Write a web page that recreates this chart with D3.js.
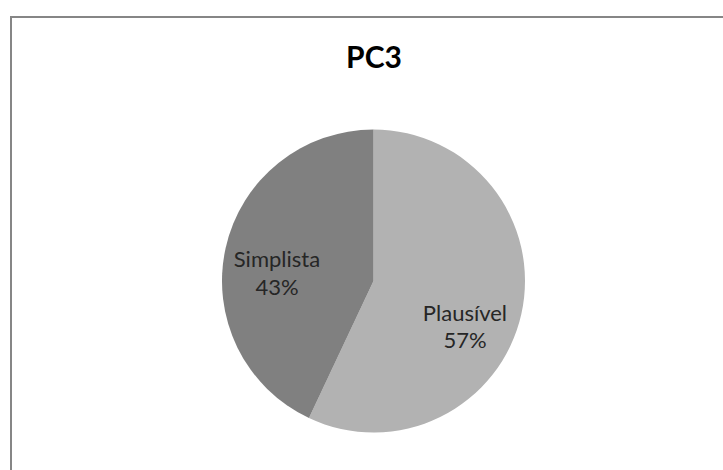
<!DOCTYPE html>
<html>
<head>
<meta charset="utf-8">
<script src="https://cdn.jsdelivr.net/npm/d3@7"></script>
<style>
  body { margin: 0; background: #fff; }
  svg { display: block; }
</style>
</head>
<body>
<script>
// data
const categories = ["Plausível", "Simplista"];
const values = [57, 43];
const colors = ["#b2b2b2", "#808080"];
// where Excel put each label (degrees clockwise from top, fraction of radius)
const labelAngle = [115.7, 275.4];
const labelRadius = [0.67, 0.64];

const width = 723, height = 470;
const cx = 373.5, cy = 281, R = 151.5;

const svg = d3.select("body").append("svg")
    .attr("width", width).attr("height", height);

svg.append("rect").attr("width", width).attr("height", height).attr("fill", "#fff");

// chart-area border, runs off the right and bottom edges
svg.append("rect")
    .attr("x", 11).attr("y", 17)
    .attr("width", width + 20).attr("height", height + 20)
    .attr("fill", "none")
    .attr("stroke", "#868686")
    .attr("stroke-width", 2);

svg.append("text")
    .attr("x", 374).attr("y", 68)
    .attr("text-anchor", "middle")
    .attr("font-family", "Lato, 'Open Sans', sans-serif")
    .attr("font-weight", "bold")
    .attr("font-size", 30)
    .attr("fill", "#000")
    .text("PC3");

const data = categories.map((c, i) => ({ name: c, value: values[i], i }));

const pie = d3.pie().sort(null).value(d => d.value);
const arc = d3.arc().innerRadius(0).outerRadius(R);

const g = svg.append("g").attr("transform", `translate(${cx},${cy})`);

const arcs = pie(data);
g.selectAll("path")
  .data(arcs)
  .join("path")
    .attr("d", arc)
    .attr("fill", d => colors[d.data.i]);

const total = d3.sum(values);
const labels = g.selectAll("text.lbl")
  .data(arcs)
  .join("text")
    .attr("class", "lbl")
    .attr("text-anchor", "middle")
    .attr("font-family", "Lato, 'Open Sans', sans-serif")
    .attr("font-size", 22)
    .attr("fill", "#262626")
    .attr("transform", d => {
      const a = labelAngle[d.data.i] * Math.PI / 180;
      const r = labelRadius[d.data.i] * R;
      return `translate(${r * Math.sin(a)},${-r * Math.cos(a)})`;
    });

labels.append("tspan")
    .attr("x", 0).attr("dy", "-0.2em")
    .text(d => d.data.name);
labels.append("tspan")
    .attr("x", 0).attr("dy", "1.25em")
    .text(d => Math.round(d.data.value / total * 100) + "%");
</script>
</body>
</html>
